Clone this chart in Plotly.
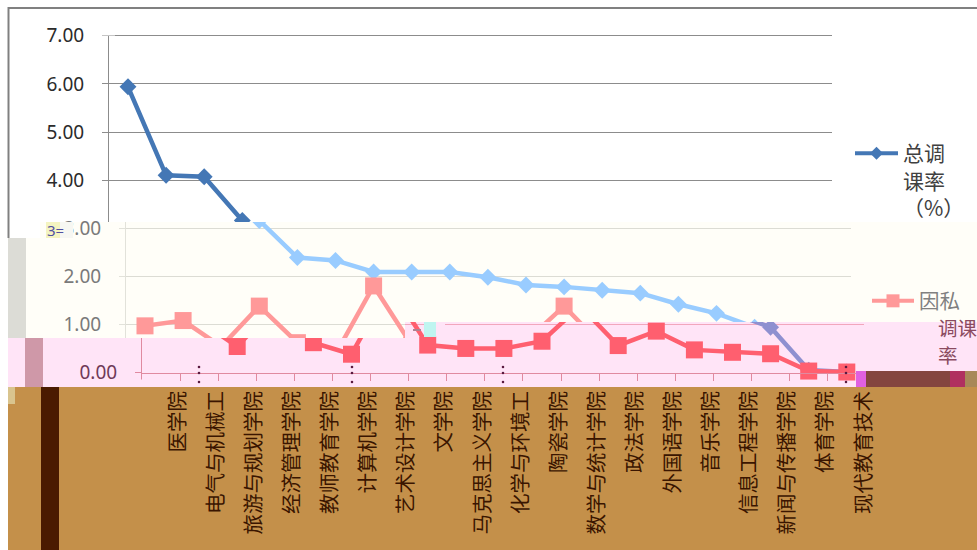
import plotly.graph_objects as go

# ---------- data ----------
categories = ["医学院", "电气与机械工", "旅游与规划学院", "经济管理学院", "教师教育学院",
              "计算机学院", "艺术设计学院", "文学院", "马克思主义学院", "化学与环境工",
              "陶瓷学院", "数学与统计学院", "政法学院", "外国语学院", "音乐学院",
              "信息工程学院", "新闻与传播学院", "体育学院", "现代教育技术"]
total_rate = [5.94, 4.10, 4.07, 3.16, 2.39, 2.33, 2.09, 2.09, 2.09, 1.98,
              1.82, 1.78, 1.71, 1.65, 1.42, 1.23, 0.94, 0.05, 0.01]
private_rate = [0.97, 1.08, 0.54, 1.38, 0.62, 0.38, 1.80, 0.57, 0.50, 0.50,
                0.65, 1.38, 0.56, 0.86, 0.47, 0.42, 0.39, 0.03, 0.01]
total_name = "总调<br>课率<br>（%）"
private_name = "因私"

W, H = 977, 550
PX_PER_CAT = 38.1
PX_PER_UNIT = 48.1
ZERO_Y = 372.5

def fx(px): return px / W
def fy(py): return 1 - py / H
def val(py): return (ZERO_Y - py) / PX_PER_UNIT

# Displaced horizontal strips of the picture
panels = [
    dict(x0=109, x1=832, y0=32, y1=222, ox=128, blue="#4477B5", red="#4477B5", line="#8C8C8C", grid="#8C8C8C",
         text="#2B2B2B", labels=True),
    dict(x0=126, x1=851, y0=222, y1=322, ox=145, blue="#99CCFF", red="#FF9999", line="#E2E2DA", grid="#DCDCD4",
         text="#7A7A7A", labels=True),
    dict(x0=126, x1=405, y0=322, y1=338, ox=145, blue="#99CCFF", red="#FF9999", line="#E2E2DA", grid="#DCDCD4",
         text="#7A7A7A", labels=True),
    dict(x0=405, x1=864, y0=322, y1=338, ox=161, blue="#8F90D0", red="#FF5F6F", line="rgba(0,0,0,0)", grid="#F2A6BC",
         text="#6F3A58", labels=False),
    dict(x0=142, x1=864, y0=338, y1=387, ox=161, blue="#8F90D0", red="#FF5F6F", line="#E08AA0", grid="rgba(0,0,0,0)",
         text="#6F3A58", labels=True),
]

fig = go.Figure()
layout = {}
for i, p in enumerate(panels, start=1):
    sx = "" if i == 1 else str(i)
    fig.add_trace(go.Scatter(x=categories, y=total_rate, mode="lines+markers", xaxis=f"x{sx}", yaxis=f"y{sx}",
                             line=dict(color=p["blue"], width=4.5),
                             marker=dict(symbol="diamond", size=13, color=p["blue"]),
                             showlegend=False, cliponaxis=True))
    fig.add_trace(go.Scatter(x=categories, y=private_rate, mode="lines+markers", xaxis=f"x{sx}", yaxis=f"y{sx}",
                             line=dict(color=p["red"], width=4.5),
                             marker=dict(symbol="square", size=17, color=p["red"]),
                             showlegend=False, cliponaxis=True))
    xa = dict(domain=[fx(p["x0"]), fx(p["x1"])], type="category", categoryorder="array", categoryarray=categories,
              range=[(p["x0"] - p["ox"]) / PX_PER_CAT, (p["x1"] - p["ox"]) / PX_PER_CAT], automargin=False,
              showticklabels=False, showgrid=False, zeroline=False, ticks="", anchor=f"y{sx}")
    if i == 5:
        xa.update(anchor="free", position=fy(ZERO_Y), showline=True, linecolor=p["line"], linewidth=1,
                  ticks="outside", ticklen=7, tickcolor=p["line"], tickson="boundaries")
    ya = dict(domain=[fy(p["y1"]), fy(p["y0"])], range=[val(p["y1"]), val(p["y0"])], automargin=False,
              anchor=f"x{sx}", tick0=0, dtick=1, tickformat=".2f", zeroline=False,
              showgrid=True, gridcolor=p["grid"], gridwidth=1,
              showline=p["labels"], linecolor=p["line"], linewidth=1,
              ticks="outside" if p["labels"] else "", ticklen=6, tickcolor=p["line"],
              showticklabels=p["labels"], ticklabelstandoff=14,
              tickfont=dict(family="Noto Sans", size=19, color=p["text"]))
    layout[f"xaxis{sx}"] = xa
    layout[f"yaxis{sx}"] = ya

# Category label strip
i = len(panels) + 1
fig.add_trace(go.Scatter(x=categories, y=total_rate, mode="markers", xaxis=f"x{i}", yaxis=f"y{i}",
                         marker=dict(opacity=0), showlegend=False, hoverinfo="skip"))
layout[f"xaxis{i}"] = dict(domain=[fx(159), fx(159 + 19 * PX_PER_CAT)], type="category", categoryorder="array",
                           categoryarray=categories, range=[-0.5, 18.5], tickmode="array",
                           tickvals=categories, ticktext=categories, tickangle=-90, ticks="", showgrid=False,
                           zeroline=False, showline=False, anchor=f"y{i}", automargin=False,
                           tickfont=dict(family="Noto Sans CJK SC", size=20.5, color="#3A1500"))
layout[f"yaxis{i}"] = dict(domain=[fy(386), fy(380)], range=[0, 1], visible=False, anchor=f"x{i}", automargin=False)

# Legends
fig.add_trace(go.Scatter(x=[None], y=[None], name=total_name, mode="lines+markers", legend="legend",
                         line=dict(color="#4477B5", width=4), marker=dict(symbol="diamond", size=10, color="#4477B5")))
fig.add_trace(go.Scatter(x=[None], y=[None], name=private_name, mode="lines+markers", legend="legend2",
                         line=dict(color="#FF9999", width=4), marker=dict(symbol="square", size=13, color="#FF9999")))

def rect(x0, y0, x1, y1, color, layer="below"):
    return dict(type="rect", xref="paper", yref="paper", x0=fx(x0), x1=fx(x1), y0=fy(y1), y1=fy(y0),
                fillcolor=color, line=dict(width=0), layer=layer)

shapes = [
    # strip backgrounds
    rect(40, 222, 977, 238, "#FFFEF8"),
    rect(26, 238, 977, 338, "#FFFEF8"),
    rect(8, 238, 26, 338, "#DCDCD6"),
    rect(405, 322, 977, 338, "#FFE4F7"),
    rect(8, 338, 977, 387, "#FFE4F7"),
    rect(25, 338, 43, 387, "#CF98A8"),
    rect(8, 387, 977, 550, "#C4904A"),
    rect(41, 387, 59, 550, "#4A1A00"),
    rect(8, 387, 15, 404, "#D9C48E"),
    # frame
    rect(8, 7, 977, 9, "#808080"),
    rect(7.5, 7, 9.5, 238, "#808080"),
    # block artefacts
    rect(856, 371, 866, 387, "#E060E0", "above"),
    rect(866, 371, 950, 387, "#84453F", "above"),
    rect(950, 371, 965, 387, "#B03060", "above"),
    rect(965, 371, 977, 387, "#A88858", "above"),
    rect(424, 322, 436, 337, "#BFF5F0", "above"),
    rect(413, 329, 421, 331, "#B08090", "above"),
    rect(436, 323, 445, 326, "#FFE4F7", "above"),
    rect(46, 222, 60, 238, "#F4F4C0", "above"),
    rect(60, 222, 73, 238, "#F7F7F2", "above"),
    # hide the part of the y-axis line above the 7.00 tick and below the 0.00 tick
    rect(100, 30, 115, 35.5, "#FFFFFF", "above"),
    rect(134, 379.5, 150, 387, "#FFE4F7", "above"),
]
for dx in (199, 352, 503, 846):
    for dy in (367, 373, 382):
        shapes.append(dict(type="circle", xref="paper", yref="paper", x0=fx(dx - 1.3), x1=fx(dx + 1.3),
                           y0=fy(dy + 1.3), y1=fy(dy - 1.3), fillcolor="#5A1A40", line=dict(width=0), layer="above"))

annotations = [
    dict(text="调课", x=fx(936), y=fy(327), xref="paper", yref="paper", xanchor="left", yanchor="middle",
         showarrow=False, align="left", font=dict(family="Noto Sans CJK SC", size=19.5, color="#8A4A60")),
    dict(text="率", x=fx(936), y=fy(354), xref="paper", yref="paper", xanchor="left", yanchor="middle",
         showarrow=False, align="left", font=dict(family="Noto Sans CJK SC", size=19.5, color="#8A4A60")),
    dict(text="3=", x=fx(45), y=fy(230), xref="paper", yref="paper", xanchor="left", yanchor="middle",
         showarrow=False, font=dict(family="Noto Sans", size=15, color="#5050A0")),
]

fig.update_layout(
    width=W, height=H, margin=dict(l=0, r=0, t=0, b=0), paper_bgcolor="white", plot_bgcolor="rgba(0,0,0,0)",
    shapes=shapes, annotations=annotations, hovermode=False,
    legend=dict(x=fx(850), y=fy(133), xanchor="left", yanchor="top",
                bgcolor="rgba(0,0,0,0)", itemwidth=43, valign="top",
                font=dict(family="Noto Sans CJK SC", size=21, color="#404040"), tracegroupgap=0),
    legend2=dict(x=fx(867), y=fy(281), xanchor="left", yanchor="top",
                 bgcolor="rgba(0,0,0,0)", itemwidth=42, valign="top",
                 font=dict(family="Noto Sans CJK SC", size=20.5, color="#808080")),
    **layout,
)

fig.write_html("out.html", config={"displayModeBar": False},
               post_script="document.body.style.margin='0';window.dispatchEvent(new Event('resize'));")
